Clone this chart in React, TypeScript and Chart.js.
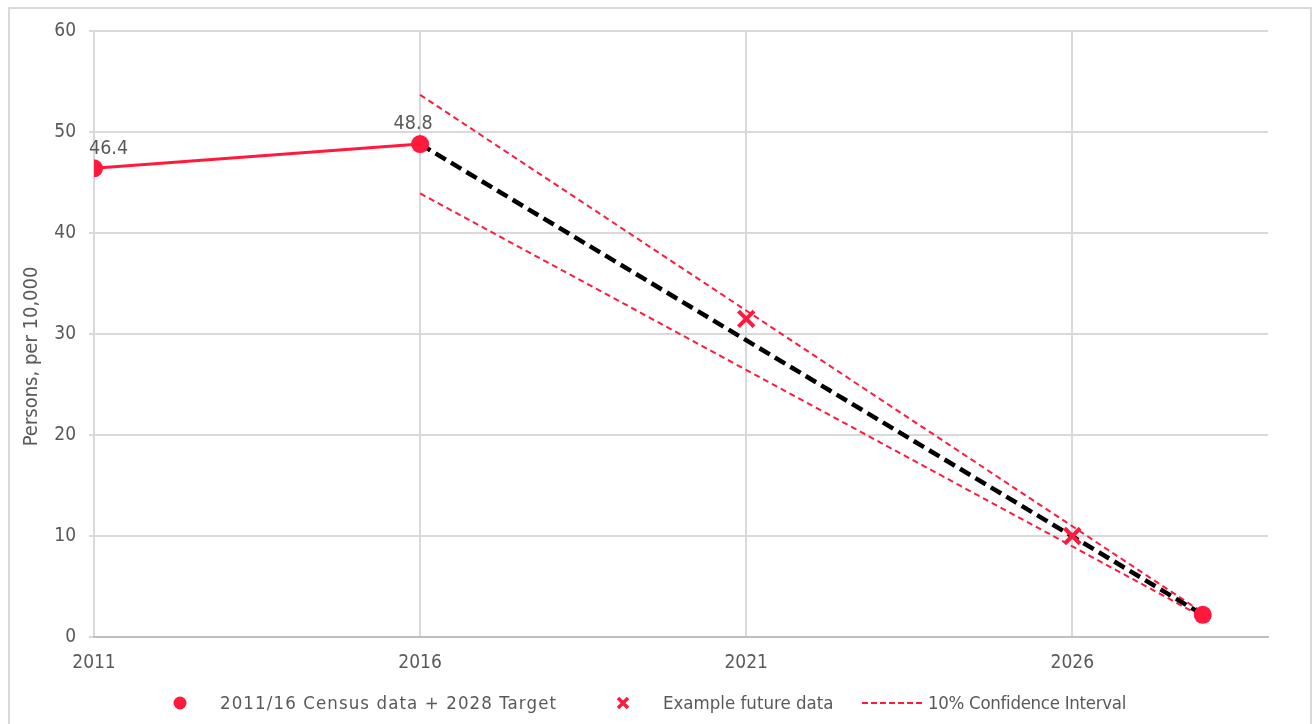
import React, { useEffect, useRef } from "react";
import { Chart, registerables } from "chart.js";

Chart.register(...registerables);

const censusYears = [2011, 2016, 2028];
const censusValues = [46.4, 48.8, 2.2];
const censusLabels = ["46.4", "48.8", ""];
const futureYears = [2021, 2026];
const futureValues = [31.5, 10.0];
const trendYears = [2016, 2028];
const trendValues = [48.8, 2.2];
const upperValues = [53.68, 2.42];
const lowerValues = [43.92, 1.98];
const xTickValues = [2011, 2016, 2021, 2026];
const yTitle = "Persons, per 10,000";
const legendLabels = ["2011/16 Census data + 2028 Target", "Example future data", "10% Confidence Interval"];

const RED = "#FF1A3D";
const GREY_TEXT = "#595959";
const GRID = "#D9D9D9";
const FONT = "'DejaVu Sans Condensed', 'DejaVu Sans', sans-serif";

const toXY = (xs: number[], ys: number[]) => xs.map((x, i) => ({ x, y: ys[i] }));

const dataLabelPlugin = {
  id: "dataLabels",
  afterDatasetsDraw(chart: any) {
    const meta = chart.getDatasetMeta(0);
    const ctx = chart.ctx;
    ctx.save();
    ctx.font = `19.5px ${FONT}`;
    ctx.fillStyle = GREY_TEXT;
    ctx.textAlign = "center";
    ctx.textBaseline = "bottom";
    meta.data.forEach((pt: any, i: number) => {
      const txt = censusLabels[i];
      if (!txt) return;
      const w = ctx.measureText(txt).width;
      const x = Math.max(pt.x - 7, chart.chartArea.left + w / 2 - 5);
      ctx.fillText(txt, x, pt.y - 10);
    });
    ctx.restore();
  },
};

const yTitlePlugin = {
  id: "yTitle",
  afterDraw(chart: any) {
    const ctx = chart.ctx;
    const area = chart.chartArea;
    ctx.save();
    ctx.font = `20px ${FONT}`;
    ctx.fillStyle = GREY_TEXT;
    ctx.textAlign = "center";
    ctx.textBaseline = "middle";
    ctx.translate(32, area.top + (area.bottom - area.top) * 0.537);
    ctx.rotate(-Math.PI / 2);
    ctx.fillText(yTitle, 0, 0);
    ctx.restore();
  },
};

function App() {
  const canvasRef = useRef<HTMLCanvasElement | null>(null);

  useEffect(() => {
    if (!canvasRef.current) return;
    const chart = new Chart(canvasRef.current, {
      type: "scatter",
      data: {
        datasets: [
          {
            label: legendLabels[0],
            data: toXY(censusYears, censusValues),
            showLine: true,
            borderColor: RED,
            backgroundColor: RED,
            borderWidth: 3,
            pointRadius: 9,
            pointHoverRadius: 9,
            pointBorderWidth: 0,
            segment: {
              borderColor: (c: any) => (c.p0DataIndex === 1 ? "rgba(0,0,0,0)" : RED),
            },
          },
          {
            label: legendLabels[1],
            data: toXY(futureYears, futureValues),
            showLine: false,
            pointStyle: "crossRot",
            pointRadius: 11,
            pointHoverRadius: 11,
            borderColor: RED,
            backgroundColor: RED,
            pointBorderWidth: 4,
            borderWidth: 4,
          },
          {
            label: "Trend",
            data: toXY(trendYears, trendValues),
            showLine: true,
            borderColor: "#000000",
            borderWidth: 4.5,
            borderDash: [12, 6],
            pointRadius: 0,
          },
          {
            label: legendLabels[2],
            data: toXY(trendYears, upperValues),
            showLine: true,
            borderColor: RED,
            borderWidth: 2,
            borderDash: [6, 4],
            pointRadius: 0,
          },
          {
            label: "Lower",
            data: toXY(trendYears, lowerValues),
            showLine: true,
            borderColor: RED,
            borderWidth: 2,
            borderDash: [6, 4],
            pointRadius: 0,
          },
        ],
      },
      options: {
        animation: false,
        responsive: false,
        maintainAspectRatio: false,
        layout: { padding: { left: 14, top: 31, right: 48, bottom: 47 } },
        plugins: {
          legend: { display: false },
          tooltip: { enabled: false },
        },
        scales: {
          x: {
            type: "linear",
            min: 2011,
            max: 2029,
            afterBuildTicks: (axis: any) => {
              axis.ticks = xTickValues.map((v) => ({ value: v }));
            },
            afterFit: (axis: any) => {
              axis.height = 40;
            },
            grid: { color: GRID, lineWidth: 2, drawTicks: false },
            border: { display: true, color: "#BFBFBF", width: 2 },
            ticks: {
              color: GREY_TEXT,
              font: { family: FONT, size: 19 },
              padding: 15,
              callback: (v: any) => String(v),
              maxRotation: 0,
            },
          },
          y: {
            min: 0,
            max: 60,
            afterFit: (axis: any) => {
              axis.width = 80;
            },
            grid: { color: GRID, lineWidth: 2, tickLength: 5 },
            border: { display: false },
            ticks: {
              stepSize: 10,
              color: GREY_TEXT,
              font: { family: FONT, size: 19 },
              padding: 13,
            },
          },
        },
      },
      plugins: [dataLabelPlugin, yTitlePlugin],
    });
    return () => chart.destroy();
  }, []);

  const textStyle: React.CSSProperties = {
    position: "absolute",
    top: 691,
    fontFamily: FONT,
    fontSize: 18.5,
    color: GREY_TEXT,
    lineHeight: "24px",
    whiteSpace: "nowrap",
  };

  return (
    <div style={{ position: "fixed", left: 0, top: 0, width: 1316, height: 724, overflow: "hidden", background: "#fff" }}>
      <div
        style={{
          position: "absolute",
          left: 8,
          top: 7,
          width: 1304,
          height: 760,
          border: "2px solid #D9D9D9",
          boxSizing: "border-box",
        }}
      />
      <canvas ref={canvasRef} width={1316} height={724} style={{ position: "absolute", left: 0, top: 0 }} />
      <svg style={{ position: "absolute", left: 170, top: 693 }} width={20} height={20}>
        <circle cx={10} cy={10} r={6.5} fill={RED} />
      </svg>
      <div style={{ ...textStyle, left: 220, letterSpacing: "1.1px" }}>{legendLabels[0]}</div>
      <svg style={{ position: "absolute", left: 613, top: 693 }} width={20} height={20}>
        <path d="M5 5 L15 15 M15 5 L5 15" stroke={RED} strokeWidth={3.5} />
      </svg>
      <div style={{ ...textStyle, left: 663 }}>{legendLabels[1]}</div>
      <svg style={{ position: "absolute", left: 862, top: 693 }} width={62} height={20}>
        <line x1={0} y1={10} x2={60} y2={10} stroke={RED} strokeWidth={2} strokeDasharray="6 3" />
      </svg>
      <div style={{ ...textStyle, left: 928, letterSpacing: "-0.3px" }}>{legendLabels[2]}</div>
    </div>
  );
}

export default App;
